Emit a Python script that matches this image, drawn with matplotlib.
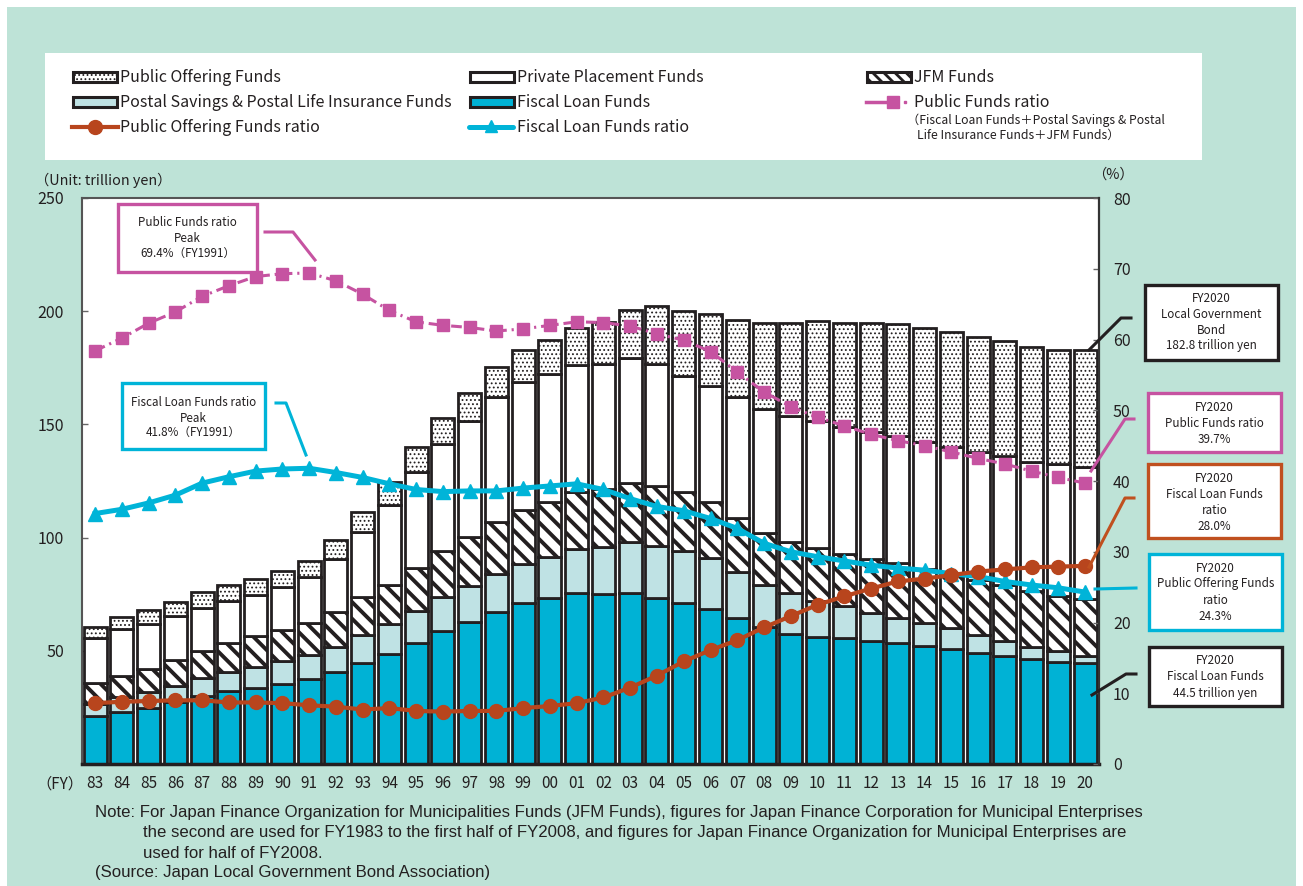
import matplotlib
matplotlib.use('Agg')
import matplotlib.pyplot as plt
from matplotlib.patches import Rectangle
from matplotlib.lines import Line2D
import numpy as np

plt.rcParams['font.family'] = ['Noto Sans CJK JP', 'DejaVu Sans']

# ---------------- data (trillion yen / %) ----------------
years = ['83', '84', '85', '86', '87', '88', '89', '90', '91', '92', '93', '94', '95',
         '96', '97', '98', '99', '00', '01', '02', '03', '04', '05', '06', '07', '08',
         '09', '10', '11', '12', '13', '14', '15', '16', '17', '18', '19', '20']

fiscal_loan = [21.3, 22.8, 24.9, 27.5, 30.0, 32.2, 33.4, 35.2, 37.4, 40.5, 44.8, 48.6, 53.3,
               58.9, 62.9, 67.3, 71.0, 73.2, 75.4, 75.1, 75.4, 73.2, 71.3, 68.5, 64.3, 60.5,
               57.4, 56.2, 55.5, 54.3, 53.3, 52.1, 50.8, 49.2, 47.8, 46.4, 45.2, 44.5]
postal_savings = [5.2, 6.9, 6.8, 7.0, 7.8, 8.3, 9.6, 10.3, 10.7, 11.3, 12.2, 13.1, 14.4,
                  15.0, 15.9, 16.6, 17.3, 18.1, 19.4, 20.9, 22.5, 23.2, 22.9, 22.3, 20.6, 18.6,
                  18.0, 15.9, 14.3, 12.5, 11.3, 10.0, 9.1, 7.8, 6.7, 5.4, 4.7, 3.3]
jfm_funds = [9.1, 9.2, 10.3, 11.4, 12.2, 12.8, 13.7, 13.7, 14.3, 15.5, 16.6, 17.4, 18.7,
             20.2, 21.6, 23.1, 23.9, 24.6, 25.2, 25.3, 26.4, 26.4, 26.1, 25.1, 23.6, 23.1,
             22.8, 23.5, 22.8, 23.7, 24.3, 23.9, 23.6, 24.3, 24.6, 24.6, 24.3, 24.9]
private_placement = [20.2, 20.6, 19.8, 19.5, 19.0, 18.9, 17.9, 18.8, 20.1, 23.2, 29.0, 35.3, 42.7,
                     47.1, 51.1, 55.0, 56.4, 56.4, 56.2, 55.4, 54.9, 53.9, 51.1, 51.1, 53.7, 54.6,
                     55.5, 55.9, 56.4, 56.3, 56.1, 56.4, 56.7, 56.4, 57.1, 56.8, 58.3, 58.6]
public_offering = [4.9, 5.6, 6.2, 6.3, 6.8, 6.9, 7.3, 7.4, 7.3, 8.4, 8.6, 10.3, 10.8,
                   11.8, 12.2, 13.2, 14.3, 15.0, 16.2, 18.6, 21.5, 25.7, 28.7, 31.8, 33.9, 37.8,
                   40.9, 44.2, 45.9, 47.8, 49.3, 50.0, 50.7, 51.0, 50.8, 51.1, 50.4, 51.5]

public_offering_ratio = [8.6, 8.8, 8.9, 9.0, 9.0, 8.7, 8.7, 8.6, 8.3, 8.1, 7.7, 7.9, 7.5,
                         7.4, 7.5, 7.5, 7.9, 8.2, 8.6, 9.4, 10.8, 12.5, 14.5, 16.1, 17.5, 19.3,
                         20.9, 22.5, 23.7, 24.8, 25.8, 26.2, 26.7, 27.2, 27.5, 27.8, 27.9, 28.0]
fiscal_loan_ratio = [35.4, 36.0, 36.9, 38.0, 39.7, 40.6, 41.4, 41.7, 41.8, 41.2, 40.5, 39.6, 38.8,
                     38.5, 38.6, 38.6, 39.0, 39.3, 39.6, 38.8, 37.5, 36.4, 35.8, 34.7, 33.3, 31.2,
                     30.0, 29.3, 28.7, 28.1, 27.7, 27.4, 26.9, 26.5, 25.8, 25.3, 24.9, 24.3]
public_funds_ratio = [58.4, 60.2, 62.3, 63.9, 66.1, 67.6, 68.9, 69.3, 69.4, 68.3, 66.4, 64.1, 62.5,
                      62.0, 61.7, 61.2, 61.5, 62.0, 62.5, 62.4, 61.9, 60.8, 59.9, 58.3, 55.4, 52.6,
                      50.5, 49.0, 47.8, 46.6, 45.7, 45.0, 44.1, 43.2, 42.4, 41.4, 40.5, 39.7]

left_ticks = [50, 100, 150, 200, 250]
right_ticks = [0, 10, 20, 30, 40, 50, 60, 70, 80]

# ---------------- style ----------------
MINT = '#bee3d7'
CYAN = '#00b2d5'
LIGHT = '#bfe2e4'
ORANGE = '#b8451d'
PINK = '#c653a1'
LCYAN = '#00b4d8'
DARK = '#231f20'
BOX_ORANGE = '#c0501f'

W, H = 1303, 886
fig = plt.figure(figsize=(W / 100, H / 100), dpi=100)
fig.patch.set_facecolor('white')

def px_rect(x0, y0, x1, y1, **kw):
    return Rectangle((x0 / W, 1 - y1 / H), (x1 - x0) / W, (y1 - y0) / H,
                     transform=fig.transFigure, **kw)

fig.add_artist(px_rect(7, 7, 1296, 886, facecolor=MINT, edgecolor='none', zorder=-10))
fig.add_artist(px_rect(45, 53, 1202, 160, facecolor='white', edgecolor='none', zorder=-9))

ax = fig.add_axes([82 / W, 1 - 764 / H, (1099 - 82) / W, (764 - 198) / H])
ax.set_zorder(1)
ax.set_facecolor('white')
ax2 = ax.twinx()
ax2.set_zorder(2)
ax2.patch.set_visible(False)

x = np.arange(len(years))
bw = 0.86
blw = 2.0

def hatched_bar(vals, bottom, face, hatch=None, hlw=1.0):
    with plt.rc_context({'hatch.linewidth': hlw, 'hatch.color': DARK}):
        bars = ax.bar(x, vals, bw, bottom=bottom, color=face, edgecolor=DARK,
                      linewidth=blw, hatch=hatch, zorder=2)
    for b in bars:
        if hasattr(b, 'set_hatch_linewidth'):
            b.set_hatch_linewidth(hlw)
    return bars

b0 = np.zeros(len(x))
hatched_bar(fiscal_loan, b0, CYAN)
b1 = b0 + np.array(fiscal_loan)
hatched_bar(postal_savings, b1, LIGHT)
b2 = b1 + np.array(postal_savings)
hatched_bar(jfm_funds, b2, 'white', hatch='\\\\', hlw=2.8)
b3 = b2 + np.array(jfm_funds)
hatched_bar(private_placement, b3, 'white')
b4 = b3 + np.array(private_placement)
hatched_bar(public_offering, b4, 'white', hatch='....', hlw=0.8)

ax.set_xlim(-0.49, 37.52)
ax.set_ylim(0, 250)
ax.set_yticks(left_ticks)
ax.set_xticks(x)
ax.set_xticklabels(years)
ax.tick_params(axis='x', length=0, pad=8, labelsize=11, colors='#231f20')
ax.tick_params(axis='y', direction='in', length=4, width=1, color='#666666',
               pad=13, labelsize=11.5, labelcolor='#231f20')
for s in ['top', 'left']:
    ax.spines[s].set_color('#555555')
    ax.spines[s].set_linewidth(1.5)
ax.spines['right'].set_visible(False)
ax.spines['bottom'].set_color(DARK)
ax.spines['bottom'].set_linewidth(2.5)

ax2.set_ylim(0, 80)
ax2.set_yticks(right_ticks)
ax2.tick_params(axis='y', direction='in', length=4, width=1, color='#666666',
                pad=10, labelsize=11.5, labelcolor='#231f20')
for s in ['top', 'left', 'bottom']:
    ax2.spines[s].set_visible(False)
ax2.spines['right'].set_color('#333333')
ax2.spines['right'].set_linewidth(1.6)

ax2.plot(x, public_funds_ratio, color=PINK, lw=2.2, linestyle=(0, (3.5, 1.6, 0.7, 1.6)),
         marker='s', markersize=8, markerfacecolor=PINK, markeredgecolor=PINK, zorder=5)
ax2.plot(x, fiscal_loan_ratio, color=LCYAN, lw=3.6, marker='^', markersize=9.5,
         markerfacecolor=LCYAN, markeredgecolor=LCYAN, zorder=6)
ax2.plot(x, public_offering_ratio, color=ORANGE, lw=3.0, marker='o', markersize=10,
         markerfacecolor=ORANGE, markeredgecolor=ORANGE, zorder=7)

# ---------------- overlay in pixel coordinates ----------------
ov = fig.add_axes([0, 0, 1, 1])
ov.set_zorder(3)
ov.patch.set_visible(False)
ov.set_xlim(0, W)
ov.set_ylim(H, 0)
ov.axis('off')

# legend
def leg_patch(x0, yc, face, hatch=None, hlw=1.0):
    with plt.rc_context({'hatch.linewidth': hlw, 'hatch.color': DARK}):
        r = Rectangle((x0, yc - 5), 44, 10, facecolor=face, edgecolor=DARK, lw=2.2, hatch=hatch)
    if hasattr(r, 'set_hatch_linewidth'):
        r.set_hatch_linewidth(hlw)
    ov.add_patch(r)

LFS = 11.5
leg_patch(73, 77, 'white', '....', 0.8)
ov.text(120, 77, 'Public Offering Funds', fontsize=LFS, va='center', ha='left', color=DARK)
leg_patch(470, 77, 'white')
ov.text(517, 77, 'Private Placement Funds', fontsize=LFS, va='center', ha='left', color=DARK)
leg_patch(867, 77, 'white', '\\\\\\', 2.0)
ov.text(914, 77, 'JFM Funds', fontsize=LFS, va='center', ha='left', color=DARK)

leg_patch(73, 102, LIGHT)
ov.text(120, 102, 'Postal Savings & Postal Life Insurance Funds', fontsize=LFS, va='center', ha='left', color=DARK)
leg_patch(470, 102, CYAN)
ov.text(517, 102, 'Fiscal Loan Funds', fontsize=LFS, va='center', ha='left', color=DARK)
ov.add_line(Line2D([866, 892], [102, 102], color=PINK, lw=2.5))
ov.add_line(Line2D([893], [102], color=PINK, marker='s', markersize=8, lw=0))
ov.add_line(Line2D([905], [102], color=PINK, marker='s', markersize=2, lw=0))
ov.text(914, 102, 'Public Funds ratio', fontsize=LFS, va='center', ha='left', color=DARK)
ov.text(907, 120, '（Fiscal Loan Funds＋Postal Savings & Postal', fontsize=8.8, va='center', ha='left', color=DARK)
ov.text(917, 135, 'Life Insurance Funds＋JFM Funds）', fontsize=8.8, va='center', ha='left', color=DARK)

ov.add_line(Line2D([72, 118], [127, 127], color=ORANGE, lw=3.0))
ov.add_line(Line2D([95], [127], color=ORANGE, marker='o', markersize=10, lw=0))
ov.text(120, 127, 'Public Offering Funds ratio', fontsize=LFS, va='center', ha='left', color=DARK)
ov.add_line(Line2D([469, 513], [127, 127], color=LCYAN, lw=3.6, solid_capstyle='round'))
ov.add_line(Line2D([491], [126], color=LCYAN, marker='^', markersize=9, lw=0))
ov.text(517, 127, 'Fiscal Loan Funds ratio', fontsize=LFS, va='center', ha='left', color=DARK)

# axis titles
ov.text(103, 180, '（Unit: trillion yen）', fontsize=10.3, ha='center', va='center', color=DARK)
ov.text(1113, 175, '（%）', fontsize=10.3, ha='center', va='center', color=DARK)
ov.text(60, 784, '（FY）', fontsize=11, ha='center', va='center', color=DARK)

# annotation boxes
def box(x0, y0, x1, y1, ec, lines, ys, fs=8.4):
    ov.add_patch(Rectangle((x0, y0), x1 - x0, y1 - y0, facecolor='white', edgecolor=ec, lw=2.4, zorder=4))
    for t, yy in zip(lines, ys):
        ov.text((x0 + x1) / 2, yy, t, fontsize=fs, ha='center', va='center', color=DARK, zorder=5)

def conn(xs, ys, c):
    ov.add_line(Line2D(xs, ys, color=c, lw=2.2, zorder=4))

box(118, 204, 257, 272, PINK, ['Public Funds ratio', 'Peak', '69.4%（FY1991）'], [222, 238, 254])
conn([265, 293, 315], [232, 232, 260], PINK)
box(122, 383, 265, 449, LCYAN, ['Fiscal Loan Funds ratio', 'Peak', '41.8%（FY1991）'], [402, 418, 433])
conn([276, 286, 306], [403, 403, 455], LCYAN)

box(1145, 285, 1278, 360, DARK, ['FY2020', 'Local Government', 'Bond', '182.8 trillion yen'],
    [298, 314, 330, 346])
conn([1089, 1121, 1131], [350, 318, 318], DARK)
box(1148, 393, 1281, 452, PINK, ['FY2020', 'Public Funds ratio', '39.7%'], [407, 423, 439])
conn([1091, 1125, 1134], [471, 419, 419], PINK)
box(1148, 464, 1281, 538, BOX_ORANGE, ['FY2020', 'Fiscal Loan Funds', 'ratio', '28.0%'],
    [478, 494, 510, 526])
conn([1089, 1125, 1134], [567, 498, 498], BOX_ORANGE)
box(1149, 554, 1282, 630, LCYAN, ['FY2020', 'Public Offering Funds', 'ratio', '24.3%'],
    [568, 584, 600, 616])
conn([1095, 1136], [589, 588], LCYAN)
box(1149, 647, 1282, 706, DARK, ['FY2020', 'Fiscal Loan Funds', '44.5 trillion yen'],
    [661, 677, 693])
conn([1092, 1126, 1136], [695, 674, 674], DARK)

# note
NFS = 12.1
nf = ['Liberation Sans', 'DejaVu Sans']
ov.text(95, 813, 'Note: For Japan Finance Organization for Municipalities Funds (JFM Funds), figures for Japan Finance Corporation for Municipal Enterprises',
        fontsize=NFS, family=nf, ha='left', va='center', color=DARK)
ov.text(143, 833, 'the second are used for FY1983 to the first half of FY2008, and figures for Japan Finance Organization for Municipal Enterprises are',
        fontsize=NFS, family=nf, ha='left', va='center', color=DARK)
ov.text(143, 853, 'used for half of FY2008.', fontsize=NFS, family=nf, ha='left', va='center', color=DARK)
ov.text(95, 872, '(Source: Japan Local Government Bond Association)', fontsize=NFS, family=nf,
        ha='left', va='center', color=DARK)

fig.savefig('out.png', dpi=100, facecolor=fig.get_facecolor())
